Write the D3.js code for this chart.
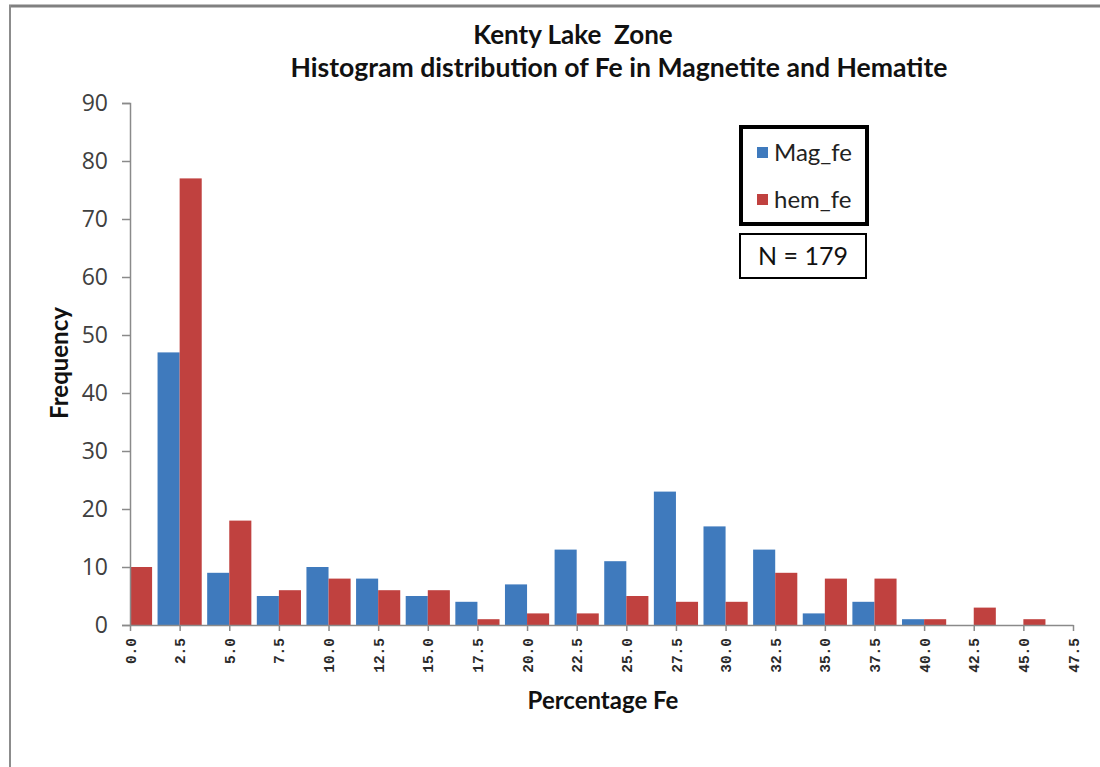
<!DOCTYPE html>
<html><head><meta charset="utf-8">
<script src="https://cdn.jsdelivr.net/npm/d3@7"></script>
<style>body{margin:0;background:#fff}svg{display:block}text{white-space:pre}</style>
</head><body>
<script>
const categories = ["0.0","2.5","5.0","7.5","10.0","12.5","15.0","17.5","20.0","22.5","25.0","27.5","30.0","32.5","35.0","37.5","40.0","42.5","45.0","47.5"];
const magFe = [0,47,9,5,10,8,5,4,7,13,11,23,17,13,2,4,1,0,0,0];
const hemFe = [10,77,18,6,8,6,6,1,2,2,5,4,4,9,8,8,1,3,1,0];
const seriesNames = ["Mag_fe","hem_fe"];
const colors = ["#3F7ABD","#C0413F"];
const yTicks = [0,10,20,30,40,50,60,70,80,90];

const W = 1100, H = 767;
const svg = d3.select("body").append("svg").attr("width", W).attr("height", H);

// frame
svg.append("line").attr("x1",9).attr("x2",W).attr("y1",6).attr("y2",6).attr("stroke","#808080").attr("stroke-width",3);
svg.append("line").attr("x1",10).attr("x2",10).attr("y1",5).attr("y2",H).attr("stroke","#8c8c8c").attr("stroke-width",2);

const L = 130, R = 1073, T = 103, B = 625;
const x = d3.scalePoint().domain(categories).range([L, R]);
const y = d3.scaleLinear().domain([0, 90]).range([B, T]);
const step = x.step();
const barW = step * 0.445;

const defs = svg.append("defs");
defs.append("clipPath").attr("id","clip").append("rect").attr("x",L).attr("y",T-5).attr("width",R-L).attr("height",B-T+5);

const g = svg.append("g").attr("clip-path","url(#clip)");
const series = [magFe, hemFe];
series.forEach((vals, si) => {
  g.selectAll(".s"+si).data(vals).enter().append("rect")
    .attr("x", (d,i) => x(categories[i]) + (si === 0 ? -barW : 0))
    .attr("width", barW)
    .attr("y", d => y(d))
    .attr("height", d => B - y(d))
    .attr("fill", colors[si]);
});

// Y axis
const yAxis = svg.append("g").attr("transform",`translate(${L},0)`)
  .call(d3.axisLeft(y).tickValues(yTicks).tickSize(8).tickPadding(14));
yAxis.select(".domain").attr("stroke","#8a8a8a").attr("stroke-width",1.5);
yAxis.selectAll(".tick line").attr("stroke","#8a8a8a").attr("stroke-width",1.5);
yAxis.selectAll(".tick text").attr("font-family","'Open Sans', sans-serif").attr("font-size",23).attr("fill","#404040");

// X axis
const xAxis = svg.append("g").attr("transform",`translate(0,${B})`)
  .call(d3.axisBottom(x).tickSize(6).tickPadding(8).tickSizeOuter(0));
xAxis.select(".domain").attr("stroke","#8a8a8a").attr("stroke-width",1.5);
xAxis.selectAll(".tick line").attr("stroke","#8a8a8a").attr("stroke-width",1.5);
xAxis.selectAll(".tick text")
  .attr("font-family","'Liberation Mono', 'DejaVu Sans Mono', monospace").attr("font-size",14.5).attr("font-weight","bold").attr("fill","#2a2a2a")
  .attr("transform","rotate(-90)").attr("text-anchor","end")
  .attr("x",-13).attr("y",0).attr("dy","0.35em");

// titles
const titleFont = "Lato, 'Open Sans', sans-serif";
svg.append("text").attr("x",573).attr("y",44).attr("text-anchor","middle")
  .attr("font-family",titleFont).attr("font-weight","bold").attr("font-size",26).attr("fill","#111")
  .text("Kenty Lake  Zone");
svg.append("text").attr("x",619).attr("y",77).attr("text-anchor","middle")
  .attr("font-family",titleFont).attr("font-weight","bold").attr("font-size",26.6).attr("fill","#111")
  .text("Histogram distribution of Fe in Magnetite and Hematite");

svg.append("text").attr("transform","translate(68,363) rotate(-90)").attr("text-anchor","middle")
  .attr("font-family",titleFont).attr("font-weight","bold").attr("font-size",24).attr("fill","#111")
  .text("Frequency");
svg.append("text").attr("x",603).attr("y",709).attr("text-anchor","middle")
  .attr("font-family",titleFont).attr("font-weight","bold").attr("font-size",24).attr("fill","#111")
  .text("Percentage Fe");

// legend
const lg = svg.append("g");
lg.append("rect").attr("x",741).attr("y",127).attr("width",126).attr("height",97)
  .attr("fill","#fff").attr("stroke","#000").attr("stroke-width",4);
seriesNames.forEach((n,i) => {
  const cy = 153 + i*47;
  lg.append("rect").attr("x",757).attr("y",cy-6).attr("width",11).attr("height",11).attr("fill",colors[i]);
  lg.append("text").attr("x",774).attr("y",cy).attr("dy","0.35em")
    .attr("font-family",titleFont).attr("font-size",24).attr("fill","#222").text(n);
});
svg.append("rect").attr("x",740).attr("y",234).attr("width",126).attr("height",44)
  .attr("fill","#fff").attr("stroke","#000").attr("stroke-width",2);
svg.append("text").attr("x",803).attr("y",256).attr("dy","0.35em").attr("text-anchor","middle")
  .attr("font-family",titleFont).attr("font-size",25).attr("fill","#111").text("N = 179");
</script>
</body></html>
